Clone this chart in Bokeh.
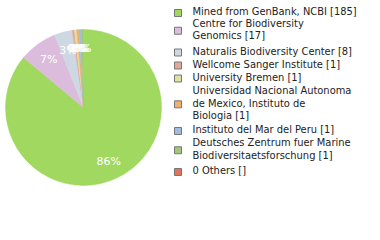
import math
from bokeh.plotting import figure
from bokeh.models import Range1d, ColumnDataSource
from bokeh.embed import file_html
from bokeh.resources import INLINE
from bokeh.core.properties import value

# ---- data ----
institutions = [
    "Mined from GenBank, NCBI",
    "Centre for Biodiversity\nGenomics",
    "Naturalis Biodiversity Center",
    "Wellcome Sanger Institute",
    "University Bremen",
    "Universidad Nacional Autonoma\nde Mexico, Instituto de\nBiologia",
    "Instituto del Mar del Peru",
    "Deutsches Zentrum fuer Marine\nBiodiversitaetsforschung",
    "0 Others",
]
counts = [185, 17, 8, 1, 1, 1, 1, 1, 0]
count_labels = ["[185]", "[17]", "[8]", "[1]", "[1]", "[1]", "[1]", "[1]", "[]"]
colors = ["#a0d860", "#dcbcdc", "#cdd8e3", "#e2a89b", "#dde2a0",
          "#f0ae70", "#9ebde0", "#a0c878", "#e07456"]

# ---- layout ----
W, H = 380, 240
cx, cy, R = 83, H - 107, 78
label_r = 0.76 * R
# pixel y (from top) of every legend text line, in order
line_y_px = [11, 23, 34.5, 50.5, 63.5, 76.5, 90, 102.5, 114.5, 129, 142, 154.5, 170]
box_x, box_size, text_x = 174, 7, 192

total = sum(counts)
starts, ends, wcolors, lx, ly, ltxt = [], [], [], [], [], []
cum = 0
for c, col in zip(counts, colors):
    if c <= 0:
        continue
    a0 = math.pi / 2 - 2 * math.pi * cum / total
    cum += c
    a1 = math.pi / 2 - 2 * math.pi * cum / total
    starts.append(a0)
    ends.append(a1)
    wcolors.append(col)
    mid = (a0 + a1) / 2
    lx.append(cx + label_r * math.cos(mid))
    ly.append(cy + label_r * math.sin(mid))
    ltxt.append(f"{int(100 * c / total)}%")

p = figure(width=W, height=H, output_backend="svg", toolbar_location=None,
           x_range=Range1d(0, W), y_range=Range1d(0, H), min_border=0)
p.axis.visible = False
p.grid.visible = False
p.outline_line_color = None
p.background_fill_color = "white"
p.border_fill_color = "white"

wsrc = ColumnDataSource(dict(x=[cx] * len(starts), y=[cy] * len(starts),
                             s=starts, e=ends, c=wcolors))
p.wedge(x="x", y="y", radius=R, start_angle="s", end_angle="e", direction="clock",
        fill_color="c", line_color="c", line_width=0.5, source=wsrc)

lsrc = ColumnDataSource(dict(x=lx, y=ly, t=ltxt))
p.text(x="x", y="y", text="t", source=lsrc, text_color="white",
       text_font=value("DejaVu Sans"), text_font_size="11px",
       text_align="center", text_baseline="middle")

# legend: split each entry into lines
tx, ty, tt, bx, by, bc = [], [], [], [], [], []
i = 0
for name, cl, col in zip(institutions, count_labels, colors):
    lines = f"{name} {cl}".split("\n")
    ys = line_y_px[i:i + len(lines)]
    i += len(lines)
    for ln, yv in zip(lines, ys):
        tx.append(text_x)
        ty.append(H - yv)
        tt.append(ln)
    bx.append(box_x + box_size / 2)
    by.append(H - (sum(ys) / len(ys) + 1.5))
    bc.append(col)

p.rect(x=bx, y=by, width=box_size, height=box_size, fill_color=bc,
       line_color="#777777", line_width=1)
p.text(x=tx, y=ty, text=tt, text_color="#222222",
       text_font=value("DejaVu Sans Condensed"), text_font_size="11px",
       text_align="left", text_baseline="middle")

open("out.html", "w").write(file_html(p, INLINE))
